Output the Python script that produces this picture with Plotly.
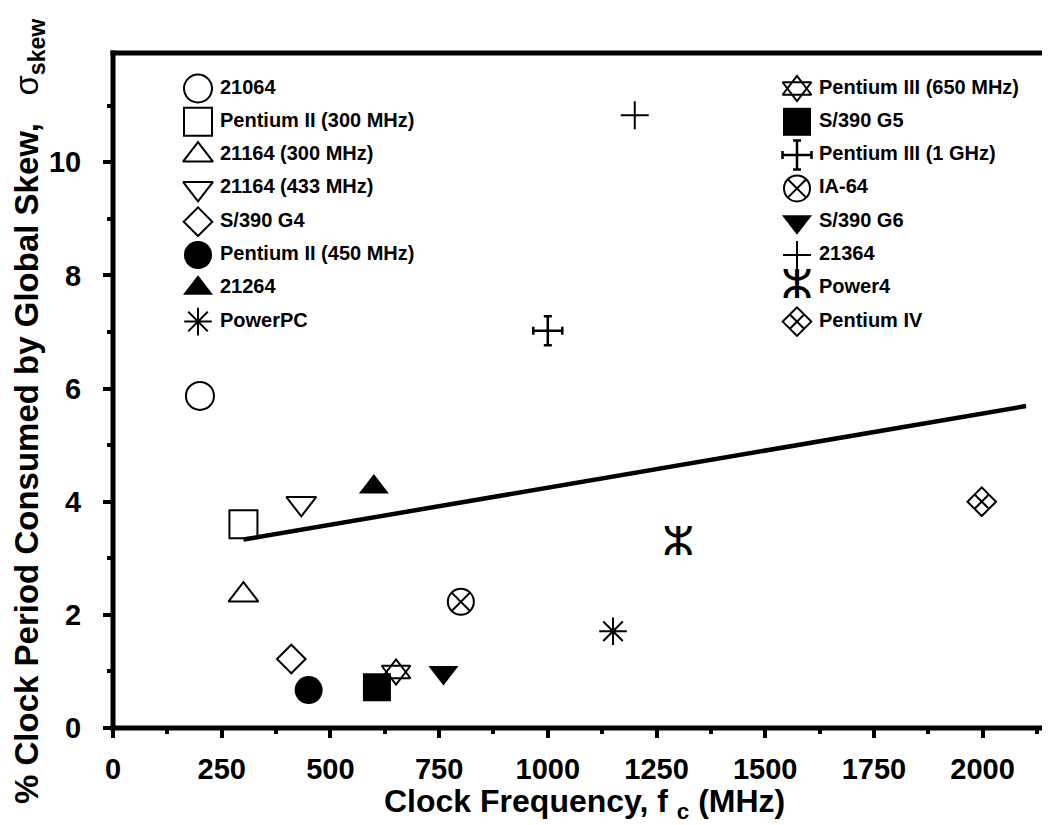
import plotly.graph_objects as go

# ---------------- data ----------------
names = ["21064", "Pentium II (300 MHz)", "21164 (300 MHz)", "21164 (433 MHz)",
         "S/390 G4", "Pentium II (450 MHz)", "21264", "PowerPC",
         "Pentium III (650 MHz)", "S/390 G5", "Pentium III (1 GHz)", "IA-64",
         "S/390 G6", "21364", "Power4", "Pentium IV"]
freq_mhz = [200, 300, 300, 433, 410, 450, 600, 1150,
            651, 607, 1000, 800, 760, 1200, 1300, 1998]
skew_pct = [5.87, 3.60, 2.35, 3.97, 1.22, 0.67, 4.26, 1.71,
            0.99, 0.72, 7.02, 2.23, 0.98, 10.83, 3.24, 4.00]
fit_freq = [300, 2100]
fit_skew = [3.33, 5.69]
x_tick_vals = [0, 250, 500, 750, 1000, 1250, 1500, 1750, 2000]
y_tick_vals = [0, 2, 4, 6, 8, 10]

# ---------------- styling ----------------
FONT = "Liberation Sans"
W, H = 1042, 817            # page has an 8px body margin
ML, MR, MT, MB = 105, 0, 45, 97
PW, PH = W - ML - MR, H - MT - MB
X_RANGE = [0, 2155]
Y_RANGE = [0, 11.93]

styles = {
    "21064": ("m", "circle-open", 28),
    "Pentium II (300 MHz)": ("m", "square-open", 28),
    "21164 (300 MHz)": ("m", "triangle-up-open", 26),
    "21164 (433 MHz)": ("m", "triangle-down-open", 26),
    "S/390 G4": ("m", "diamond-open", 22),
    "Pentium II (450 MHz)": ("m", "circle", 28),
    "21264": ("m", "triangle-up", 26),
    "PowerPC": ("m", "asterisk-open", 23),
    "Pentium III (650 MHz)": ("star", None, 25),
    "S/390 G5": ("m", "square", 28),
    "Pentium III (1 GHz)": ("err", None, 14.5),
    "IA-64": ("m", "circle-x-open", 26),
    "S/390 G6": ("m", "triangle-down", 26),
    "21364": ("m", "cross-thin-open", 20),
    "Power4": ("glyph", "\u2d63", 40),
    "Pentium IV": ("m", "diamond-x-open", 22),
}

fig = go.Figure()


def add_glyph(name, x, y, xa, ya, px_x, px_y):
    kind, sym, size = styles[name]
    common = dict(x=[x], y=[y], xaxis=xa, yaxis=ya, showlegend=False,
                  hoverinfo="skip", cliponaxis=False)
    if kind == "m":
        filled = not sym.endswith("open")
        fig.add_trace(go.Scatter(mode="markers", marker=dict(
            symbol=sym, size=size, color="black",
            line=dict(color="black", width=0 if filled else 2)), **common))
    elif kind == "star":
        for s in ("triangle-up-open", "triangle-down-open"):
            fig.add_trace(go.Scatter(mode="markers", marker=dict(
                symbol=s, size=size, color="black",
                line=dict(color="black", width=2)), **common))
    elif kind == "err":
        fig.add_trace(go.Scatter(
            mode="markers", marker=dict(size=1, color="black"),
            error_x=dict(type="constant", value=size / px_x, color="black",
                         thickness=2.5, width=4),
            error_y=dict(type="constant", value=size / px_y, color="black",
                         thickness=2.5, width=4),
            **common))
    elif kind == "glyph":
        fig.add_trace(go.Scatter(mode="text", text=[sym], textposition="middle center",
                                 textfont=dict(family="DejaVu Sans", size=size, color="black"),
                                 **common))


# data points on the main axes
ppx = PW / (X_RANGE[1] - X_RANGE[0])
ppy = PH / (Y_RANGE[1] - Y_RANGE[0])
for n, fx, sy in zip(names, freq_mhz, skew_pct):
    add_glyph(n, fx, sy, "x", "y", ppx, ppy)

# fitted trend line
fig.add_trace(go.Scatter(x=fit_freq, y=fit_skew, mode="lines",
                         line=dict(color="black", width=4.5),
                         showlegend=False, hoverinfo="skip"))

# legend drawn on a pixel-unit overlay axis (two columns)
LEG_COL_X = [85, 684]
LEG_TEXT_DX = 22
LEG_ROW0, LEG_ROW_STEP = 35.5, 33.3
for i, n in enumerate(names):
    col, row = divmod(i, 8)
    lx = LEG_COL_X[col]
    ly = LEG_ROW0 + LEG_ROW_STEP * row
    add_glyph(n, lx, ly, "x2", "y2", 1.0, 1.0)
    fig.add_trace(go.Scatter(x=[lx + LEG_TEXT_DX], y=[ly], xaxis="x2", yaxis="y2",
                             mode="text", text=[n], textposition="middle right",
                             textfont=dict(family=FONT, size=20, color="black", weight="bold"),
                             showlegend=False, hoverinfo="skip", cliponaxis=False))

tick_font = dict(family=FONT, size=29, color="black", weight="bold")
frame = dict(type="line", xref="paper", yref="paper",
             line=dict(color="black", width=5), layer="above")
fig.update_layout(
    width=W, height=H,
    margin=dict(l=ML, r=MR, t=MT, b=MB, pad=0),
    paper_bgcolor="white", plot_bgcolor="white",
    showlegend=False,
    font=dict(family=FONT, color="black"),
    xaxis=dict(range=X_RANGE, tickvals=x_tick_vals,
               ticktext=[f"<b>{v}</b>" for v in x_tick_vals],
               ticks="outside", ticklen=9,
               tickwidth=4, tickcolor="black", showline=False,
               showgrid=False, zeroline=False, automargin=False,
               tickfont=tick_font, ticklabelstandoff=6,
               minor=dict(dtick=125, tick0=0, ticks="outside", ticklen=5,
                          tickwidth=4, tickcolor="black", showgrid=False)),
    yaxis=dict(range=Y_RANGE, tickvals=y_tick_vals,
               ticktext=[f"<b>{v}</b>" for v in y_tick_vals],
               ticks="outside", ticklen=9,
               tickwidth=4, tickcolor="black", showline=False,
               showgrid=False, zeroline=False, automargin=False,
               tickfont=tick_font, ticklabelstandoff=16,
               minor=dict(dtick=1, tick0=0, ticks="outside", ticklen=5,
                          tickwidth=4, tickcolor="black", showgrid=False)),
    xaxis2=dict(range=[0, PW], overlaying="x", visible=False),
    yaxis2=dict(range=[PH, 0], overlaying="y", visible=False),
    shapes=[
        dict(frame, x0=0, x1=0, y0=-0.0037, y1=1.0037),
        dict(frame, x0=-0.0027, x1=1, y0=0, y1=0),
        dict(frame, x0=-0.0027, x1=1, y0=1, y1=1),
    ],
    annotations=[
        dict(text="Clock Frequency, f <sub>c</sub> (MHz)", xref="paper", yref="paper",
             x=(576.5 - ML) / PW, y=(H - MB - 795) / PH,
             xanchor="center", yanchor="middle", showarrow=False,
             font=dict(family=FONT, size=32, color="black", weight="bold")),
        dict(text="% Clock Period Consumed by Global Skew,\u00a0\u00a0\u00a0"
                  "<span style='font-weight:normal'>\u03c3</span><sub>skew</sub>",
             xref="paper", yref="paper",
             x=(21 - ML) / PW, y=(H - MB - 403) / PH, textangle=-90,
             xanchor="center", yanchor="middle", showarrow=False,
             font=dict(family=FONT, size=33, color="black", weight="bold")),
    ],
)

fig.write_html("out.html")
